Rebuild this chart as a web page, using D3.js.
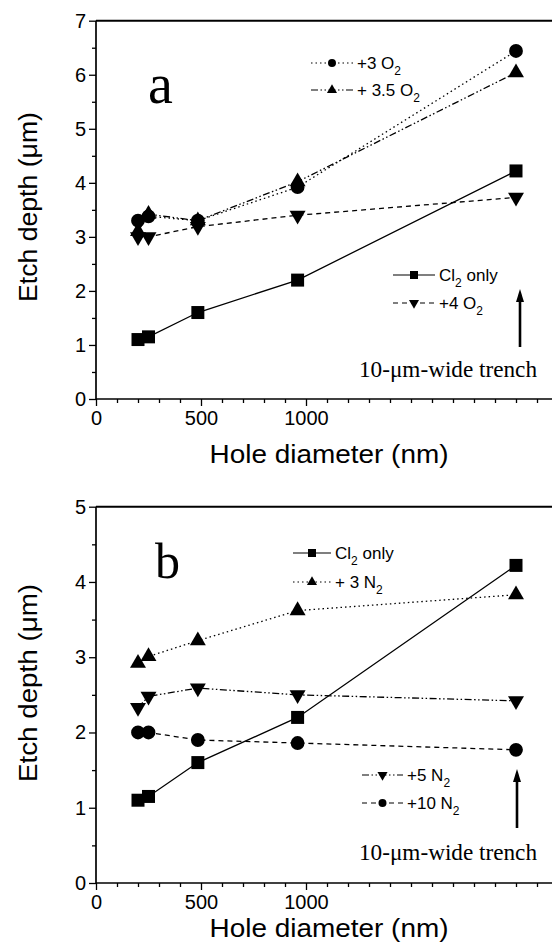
<!DOCTYPE html>
<html><head><meta charset="utf-8">
<script src="https://cdn.jsdelivr.net/npm/d3@7"></script>
<style>
html,body{margin:0;padding:0;background:#fff;}
svg{display:block;}
text{fill:#000;}
</style></head>
<body>
<script>
// ---------------- DATA ----------------
const holeDiameters = [200, 250, 485, 960, 2000]; // nm; 2000 = 10-µm-wide trench position
const xTickLabels = [0, 500, 1000];

// Panel a (O2 additions)
const aCl2Only = [1.1, 1.15, 1.6, 2.2, 4.22];
const aO2_3    = [3.3, 3.38, 3.3, 3.92, 6.44];
const aO2_35   = [3.1, 3.42, 3.3, 4.02, 6.04];
const aO2_4    = [3.0, 3.0, 3.19, 3.4, 3.73];
const aYTicks  = [0, 1, 2, 3, 4, 5, 6, 7];

// Panel b (N2 additions)
const bCl2Only = [1.1, 1.15, 1.6, 2.2, 4.22];
const bN2_3    = [2.92, 3.01, 3.22, 3.62, 3.83];
const bN2_5    = [2.33, 2.48, 2.59, 2.5, 2.42];
const bN2_10   = [2.0, 2.0, 1.9, 1.86, 1.77];
const bYTicks  = [0, 1, 2, 3, 4, 5];

const xLabel = "Hole diameter (nm)";
const yLabel = "Etch depth (\u03bcm)";
const trenchLabel = "10-\u03bcm-wide trench";

// ---------------- DRAW ----------------
const W = 552, H = 950;
const svg = d3.select("body").append("svg").attr("width", W).attr("height", H);
const SANS = "'Liberation Sans', Arial, Helvetica, sans-serif";
const SERIF = "'Liberation Serif', 'Times New Roman', serif";

const x = d3.scaleLinear().domain([0, 2200]).range([96, 558]);

const styles = {
  solid: null,
  dotted: "1.5,3",
  dashdotdot: "7,2.5,1.5,2.5,1.5,2.5",
  dashed: "5,4"
};
const markerSize = { square: 169, circle: 150, up: 110, down: 110 };
const legendSize = { square: 64, circle: 50, up: 44, down: 44 };
function symPath(kind, size) {
  const t = kind === "square" ? d3.symbolSquare : kind === "circle" ? d3.symbolCircle : d3.symbolTriangle;
  return d3.symbol().type(t).size(size)();
}

function panel(cfg) {
  const y = d3.scaleLinear().domain([0, cfg.ymax]).range([cfg.y0, cfg.y1]);
  const g = svg.append("g");

  // frame (top, left, bottom); right side lies outside the window
  g.append("line").attr("x1", x(0)).attr("x2", 560).attr("y1", y(cfg.ymax)).attr("y2", y(cfg.ymax))
    .attr("stroke", "#000").attr("stroke-width", 2);
  g.append("line").attr("x1", x(0)).attr("x2", x(0)).attr("y1", y(0)).attr("y2", y(cfg.ymax))
    .attr("stroke", "#000").attr("stroke-width", 1.7);
  g.append("line").attr("x1", x(0)).attr("x2", 560).attr("y1", y(0)).attr("y2", y(0))
    .attr("stroke", "#000").attr("stroke-width", 1.7);

  // x axis ticks
  const xMajor = d3.axisBottom(x).tickValues(xTickLabels).tickSize(7).tickPadding(5).tickFormat(d3.format("d"));
  const xMinor = d3.axisBottom(x).tickValues(d3.range(100, 2200, 100).filter(v => !xTickLabels.includes(v))).tickSize(4).tickFormat("");
  const gx1 = g.append("g").attr("transform", `translate(0,${y(0)})`).call(xMinor);
  const gx2 = g.append("g").attr("transform", `translate(0,${y(0)})`).call(xMajor);
  [gx1, gx2].forEach(a => { a.select(".domain").remove(); a.selectAll("line").attr("stroke-width", 1.3); });
  gx2.selectAll("text").attr("font-family", SANS).attr("font-size", 20);

  // y axis ticks
  const yMajor = d3.axisLeft(y).tickValues(cfg.yTicks).tickSize(7).tickPadding(3).tickFormat(d3.format("d"));
  const yMinor = d3.axisLeft(y).tickValues(cfg.yTicks.slice(0, -1).map(v => v + 0.5)).tickSize(4).tickFormat("");
  const gy1 = g.append("g").attr("transform", `translate(${x(0)},0)`).call(yMinor);
  const gy2 = g.append("g").attr("transform", `translate(${x(0)},0)`).call(yMajor);
  [gy1, gy2].forEach(a => { a.select(".domain").remove(); a.selectAll("line").attr("stroke-width", 1.3); });
  gy2.selectAll("text").attr("font-family", SANS).attr("font-size", 20);

  // axis titles
  g.append("text").attr("x", 329).attr("y", cfg.xTitleY).attr("text-anchor", "middle")
    .attr("font-family", SANS).attr("font-size", 26)
    .attr("textLength", 239).attr("lengthAdjust", "spacingAndGlyphs").text(xLabel);
  g.append("text").attr("transform", `translate(37,${cfg.yTitleC}) rotate(-90)`).attr("text-anchor", "middle")
    .attr("font-family", SANS).attr("font-size", 26)
    .attr("textLength", cfg.yTitleLen).attr("lengthAdjust", "spacingAndGlyphs").text(yLabel);

  // series
  const line = d3.line().x((d, i) => x(holeDiameters[i])).y(d => y(d));
  cfg.series.forEach(s => {
    g.append("path").datum(s.values).attr("d", line).attr("fill", "none")
      .attr("stroke", "#000").attr("stroke-width", 1.3)
      .attr("stroke-dasharray", styles[s.style]);
  });
  cfg.series.forEach(s => {
    g.selectAll(null).data(s.values).enter().append("path")
      .attr("d", symPath(s.marker, markerSize[s.marker]))
      .attr("transform", (d, i) => `translate(${x(holeDiameters[i])},${y(d)})` + (s.marker === "down" ? " rotate(180)" : ""))
      .attr("fill", "#000");
  });

  // legends
  cfg.legends.forEach(L => {
    L.items.forEach((it, k) => {
      const s = cfg.series[it];
      const yy = L.y + k * L.dy;
      g.append("line").attr("x1", L.x0).attr("x2", L.x1).attr("y1", yy).attr("y2", yy)
        .attr("stroke", "#000").attr("stroke-width", 1.2).attr("stroke-dasharray", styles[s.style]);
      g.append("path").attr("d", symPath(s.marker, legendSize[s.marker]))
        .attr("transform", `translate(${(L.x0 + L.x1) / 2},${yy})` + (s.marker === "down" ? " rotate(180)" : ""))
        .attr("fill", "#000");
      const t = g.append("text").attr("x", L.x1 + 4).attr("y", yy + 6)
        .attr("font-family", SANS).attr("font-size", 17);
      s.label.forEach(part => {
        if (part.sub) t.append("tspan").attr("font-size", 12).attr("dy", 6).text(part.sub);
        else t.append("tspan").attr("dy", part.after ? -6 : 0).text(part.t);
      });
    });
  });

  // panel letter
  g.append("text").attr("x", cfg.letterX).attr("y", cfg.letterY).attr("font-family", SERIF)
    .attr("font-size", cfg.letterSize).text(cfg.letter);

  // trench annotation + arrow
  g.append("text").attr("x", 359).attr("y", cfg.trenchY).attr("font-family", SERIF).attr("font-size", 23)
    .attr("textLength", 178).attr("lengthAdjust", "spacingAndGlyphs").text(trenchLabel);
  const ax = x(2000) + cfg.arrowDx;
  g.append("line").attr("x1", ax).attr("x2", ax).attr("y1", cfg.arrowBottom).attr("y2", cfg.arrowTip + 10)
    .attr("stroke", "#000").attr("stroke-width", 2.6);
  g.append("path").attr("d", `M${ax},${cfg.arrowTip} L${ax - 4},${cfg.arrowTip + 13} L${ax + 4},${cfg.arrowTip + 13} Z`)
    .attr("fill", "#000");
}

panel({
  ymax: 7, y0: 399, y1: 20.7, yTicks: aYTicks,
  xTitleY: 463, yTitleC: 207, yTitleLen: 190,
  letter: "a", letterX: 148, letterY: 103, letterSize: 56,
  trenchY: 377, arrowDx: 4, arrowBottom: 347, arrowTip: 289,
  series: [
    { values: aCl2Only, style: "solid", marker: "square", label: [{ t: "Cl" }, { sub: "2" }, { t: " only", after: true }] },
    { values: aO2_3, style: "dotted", marker: "circle", label: [{ t: "+3 O" }, { sub: "2" }] },
    { values: aO2_35, style: "dashdotdot", marker: "up", label: [{ t: "+ 3.5 O" }, { sub: "2" }] },
    { values: aO2_4, style: "dashed", marker: "down", label: [{ t: "+4 O" }, { sub: "2" }] }
  ],
  legends: [
    { x0: 311, x1: 353, y: 63, dy: 27, items: [1, 2] },
    { x0: 393, x1: 435, y: 275, dy: 28, items: [0, 3] }
  ]
});

panel({
  ymax: 5, y0: 883, y1: 506.7, yTicks: bYTicks,
  xTitleY: 937, yTitleC: 683, yTitleLen: 198,
  letter: "b", letterX: 155, letterY: 578, letterSize: 50,
  trenchY: 860, arrowDx: 1, arrowBottom: 828, arrowTip: 769,
  series: [
    { values: bCl2Only, style: "solid", marker: "square", label: [{ t: "Cl" }, { sub: "2" }, { t: " only", after: true }] },
    { values: bN2_3, style: "dotted", marker: "up", label: [{ t: "+ 3 N" }, { sub: "2" }] },
    { values: bN2_5, style: "dashdotdot", marker: "down", label: [{ t: "+5 N" }, { sub: "2" }] },
    { values: bN2_10, style: "dashed", marker: "circle", label: [{ t: "+10 N" }, { sub: "2" }] }
  ],
  legends: [
    { x0: 293, x1: 331, y: 553, dy: 29, items: [0, 1] },
    { x0: 362, x1: 403, y: 775, dy: 28, items: [2, 3] }
  ]
});
</script>
</body></html>
